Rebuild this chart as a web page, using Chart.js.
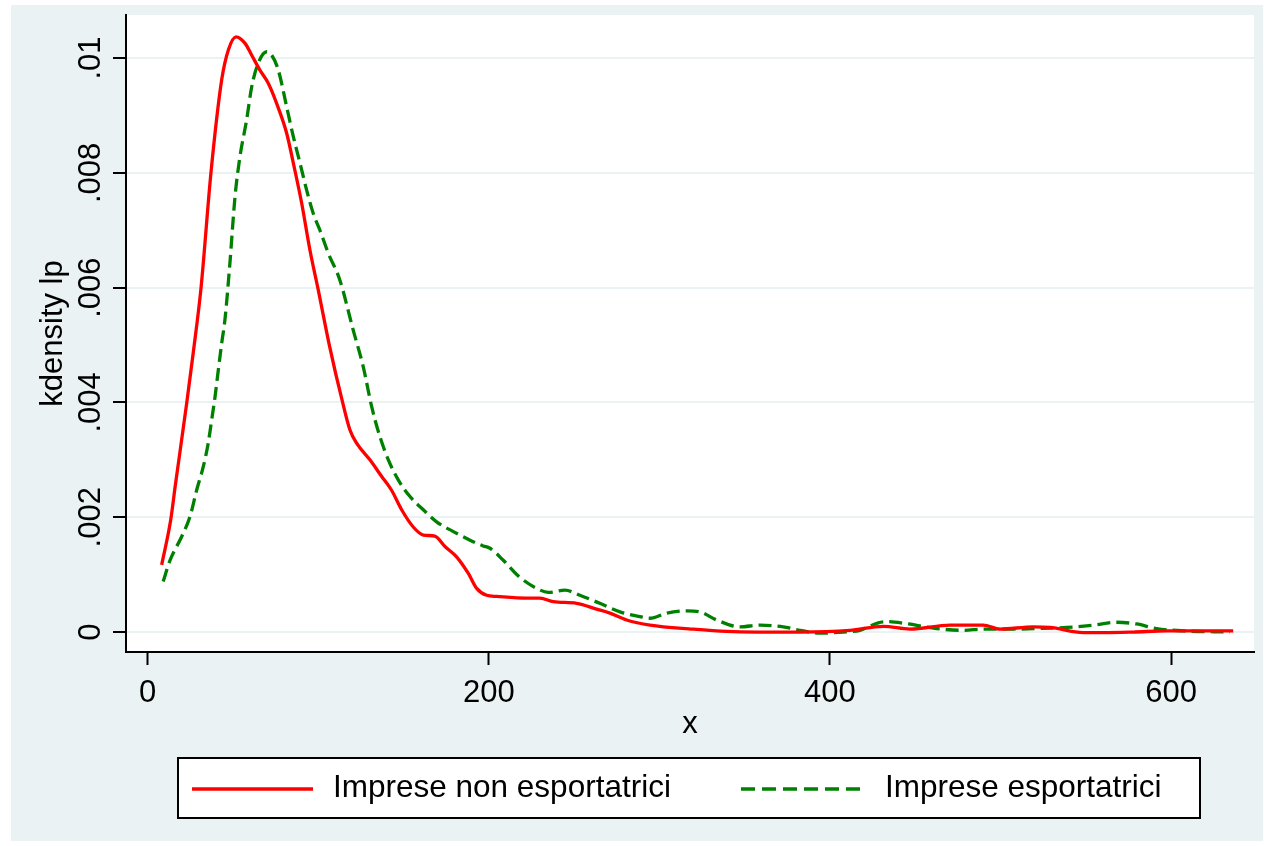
<!DOCTYPE html>
<html>
<head>
<meta charset="utf-8">
<script src="https://cdn.jsdelivr.net/npm/chart.js@4.4.0/dist/chart.umd.min.js"></script>
<style>
  html, body { margin: 0; padding: 0; background: #ffffff; }
  #grafico { display: block; }
</style>
</head>
<body>
<canvas id="grafico" width="1264" height="846"></canvas>
<script>
// Imprese non esportatrici (linea rossa)
const xNonEsp = [8.2, 13.5, 16.1, 22.9, 26.7, 31.3, 37.1, 43.4, 47.3, 51.8, 57.0, 61.0, 65.8, 70.7, 75.6, 81.5, 85.4, 90.3, 95.1, 100.0,
  106.5, 114.3, 118.6, 122.5, 130.3, 137.2, 143.0, 148.9, 155.7, 161.6, 168.4, 174.3, 181.1, 188.0, 192.9, 198.7, 204.6, 222.2, 230.0, 237.8,
  251.5, 263.2, 271.0, 280.8, 294.5, 319.8, 339.4, 357.0, 382.4, 411.7, 431.3, 446.9, 470.4, 489.9, 499.7, 519.2, 529.0, 548.5, 560.2, 577.8,
  597.4, 636.4];
const yNonEsp = [0.00117, 0.00195, 0.00253, 0.00399, 0.00486, 0.0060, 0.0080, 0.00962, 0.01014, 0.01037, 0.01026, 0.01005, 0.00979, 0.00956, 0.00921, 0.00869, 0.00817, 0.00747, 0.00666, 0.00596,
  0.0050, 0.0040, 0.00352, 0.00329, 0.0030, 0.00271, 0.00247, 0.00213, 0.00183, 0.00169, 0.00167, 0.00149, 0.00131, 0.00102, 0.00076, 0.00064, 0.00062, 0.00059, 0.00059, 0.00053,
  0.0005, 0.0004, 0.00033, 0.00021, 0.00012, 0.00005, 0.00001, 0.0, 0.0, 0.00003, 0.0001, 0.00005, 0.00012, 0.00012, 0.00005, 0.00009, 0.00008, -0.00001, -0.00001, 0.0,
  0.00002, 0.00002];

// Imprese esportatrici (linea verde tratteggiata)
const xEsp = [9.1, 13.1, 19.9, 24.8, 28.7, 32.6, 35.5, 37.5, 39.5, 41.4, 43.4, 45.3, 48.2, 51.2, 54.1, 58.0, 61.0, 64.8, 69.8, 72.7,
  76.6, 81.5, 85.4, 89.3, 93.2, 97.1, 101.0, 105.9, 112.7, 120.5, 126.4, 131.3, 136.2, 141.1, 146.9, 153.8, 161.6, 169.4, 179.2, 189.0,
  196.7, 200.7, 208.5, 217.5, 228.1, 234.9, 244.6, 253.4, 265.1, 276.9, 288.6, 294.5, 304.3, 316.0, 323.8, 333.6, 347.2, 359.0, 372.6, 382.4,
  394.1, 407.8, 417.6, 428.3, 434.2, 445.9, 462.5, 478.1, 489.9, 503.6, 521.2, 538.8, 554.4, 568.1, 579.8, 591.5, 607.1, 634.5];
const yEsp = [0.00088, 0.00125, 0.00166, 0.00201, 0.00247, 0.00288, 0.00329, 0.00369, 0.0041, 0.00456, 0.00503, 0.00544, 0.00642, 0.00758, 0.00828, 0.00892, 0.0095, 0.00991, 0.01011, 0.01005,
  0.00979, 0.00915, 0.00863, 0.00817, 0.0077, 0.00729, 0.007, 0.0066, 0.00613, 0.00526, 0.00462, 0.00393, 0.0034, 0.003, 0.00265, 0.00236, 0.00213, 0.00192, 0.00175, 0.0016,
  0.0015, 0.00146, 0.00125, 0.00097, 0.00076, 0.00069, 0.00073, 0.00064, 0.0005, 0.00035, 0.00027, 0.00024, 0.00033, 0.00037, 0.00035, 0.00021, 0.00009, 0.00012, 0.00009, 0.00003,
  -0.00002, 0.0, 0.00003, 0.00016, 0.00018, 0.00014, 0.00006, 0.00003, 0.00005, 0.00005, 0.00006, 0.00008, 0.00012, 0.00017, 0.00014, 0.00006, 0.00002, 0.0];

const tickX = [0, 200, 400, 600];
const tickY = [0, 0.002, 0.004, 0.006, 0.008, 0.01];
const etichetteY = ['0', '.002', '.004', '.006', '.008', '.01'];
const titoloX = 'x';
const titoloY = 'kdensity lp';
const legende = ['Imprese non esportatrici', 'Imprese esportatrici'];

const FONT = '31px "Liberation Sans", Arial, sans-serif';
const FONT_LEGENDA = '31.5px "Liberation Sans", Arial, sans-serif';
const SFONDO = '#EAF2F3';
const ROSSO = '#FF0000';
const VERDE = '#008000';

function punti(xs, ys) {
  return xs.map((x, i) => ({ x: x, y: ys[i] }));
}

// sfondo, etichette ruotate e legenda in stile Stata
const stileStata = {
  id: 'stileStata',
  beforeDraw(chart) {
    const ctx = chart.ctx;
    const area = chart.chartArea;
    ctx.save();
    ctx.fillStyle = '#ffffff';
    ctx.fillRect(0, 0, chart.width, chart.height);
    ctx.fillStyle = SFONDO;
    ctx.fillRect(11, 5, 1252, 836);
    ctx.fillStyle = '#ffffff';
    ctx.fillRect(area.left, area.top, area.right - area.left, area.bottom - area.top);
    ctx.restore();
  },
  afterDraw(chart) {
    const ctx = chart.ctx;
    const area = chart.chartArea;
    const sx = chart.scales.x;
    const sy = chart.scales.y;
    ctx.save();
    ctx.fillStyle = '#000000';
    ctx.font = FONT;
    ctx.textBaseline = 'alphabetic';

    // etichette asse y (ruotate)
    ctx.textAlign = 'center';
    tickY.forEach((v, i) => {
      ctx.save();
      ctx.translate(100, sy.getPixelForValue(v));
      ctx.rotate(-Math.PI / 2);
      ctx.fillText(etichetteY[i], 0, 0);
      ctx.restore();
    });

    // titolo asse y
    ctx.save();
    ctx.translate(62, (area.top + area.bottom) / 2);
    ctx.rotate(-Math.PI / 2);
    ctx.fillText(titoloY, 0, 0);
    ctx.restore();

    // etichette asse x
    tickX.forEach(v => {
      ctx.fillText(String(v), sx.getPixelForValue(v), 702);
    });
    ctx.fillText(titoloX, (area.left + area.right) / 2, 733);

    // legenda
    ctx.fillStyle = '#ffffff';
    ctx.fillRect(178, 758, 1022, 60);
    ctx.strokeStyle = '#000000';
    ctx.lineWidth = 2;
    ctx.strokeRect(178, 758, 1022, 60);

    ctx.lineWidth = 3.3;
    ctx.strokeStyle = ROSSO;
    ctx.beginPath();
    ctx.moveTo(192, 789);
    ctx.lineTo(313, 789);
    ctx.stroke();

    ctx.strokeStyle = VERDE;
    ctx.setLineDash([14, 7]);
    ctx.beginPath();
    ctx.moveTo(741, 789);
    ctx.lineTo(863, 789);
    ctx.stroke();
    ctx.setLineDash([]);

    ctx.fillStyle = '#000000';
    ctx.font = FONT_LEGENDA;
    ctx.textAlign = 'left';
    ctx.fillText(legende[0], 333, 797);
    ctx.fillText(legende[1], 885, 797);
    ctx.restore();
  }
};

const grafico = new Chart(document.getElementById('grafico'), {
  type: 'scatter',
  data: {
    datasets: [{
      label: legende[0],
      data: punti(xNonEsp, yNonEsp),
      showLine: true,
      borderColor: ROSSO,
      borderWidth: 3.3,
      pointRadius: 0,
      cubicInterpolationMode: 'monotone'
    }, {
      label: legende[1],
      data: punti(xEsp, yEsp),
      showLine: true,
      borderColor: VERDE,
      borderWidth: 3.3,
      borderDash: [13, 6],
      pointRadius: 0,
      cubicInterpolationMode: 'monotone'
    }]
  },
  options: {
    responsive: false,
    animation: false,
    devicePixelRatio: 1,
    layout: { padding: { top: 15, right: 10, left: 0, bottom: 0 } },
    plugins: {
      legend: { display: false },
      tooltip: { enabled: false }
    },
    scales: {
      x: {
        type: 'linear',
        min: -12.7,
        max: 648.6,
        afterBuildTicks: s => { s.ticks = tickX.map(v => ({ value: v })); },
        afterFit: s => { s.height = 194; },
        ticks: { display: false },
        grid: { drawOnChartArea: false, drawTicks: true, tickLength: 13, tickColor: '#000000', tickWidth: 2 },
        border: { display: true, color: '#000000', width: 2 }
      },
      y: {
        type: 'linear',
        min: -0.000348,
        max: 0.01075,
        afterBuildTicks: s => { s.ticks = tickY.map(v => ({ value: v })); },
        afterFit: s => { s.width = 126; },
        ticks: { display: false },
        grid: { color: SFONDO, lineWidth: 2, drawTicks: true, tickLength: 13, tickColor: '#000000', tickWidth: 2 },
        border: { display: true, color: '#000000', width: 2 }
      }
    }
  },
  plugins: [stileStata]
});
</script>
</body>
</html>
